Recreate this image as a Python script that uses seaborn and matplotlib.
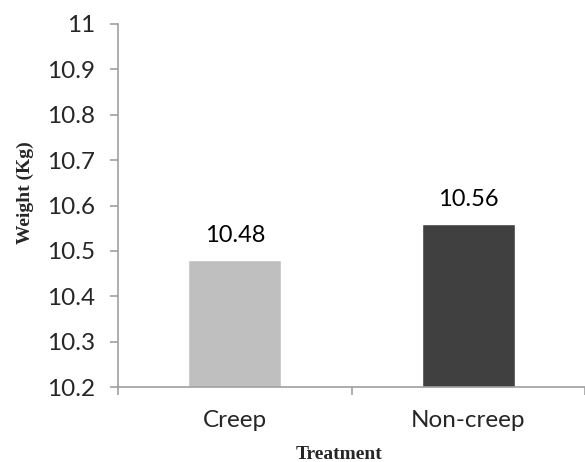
import matplotlib
matplotlib.use('Agg')
import matplotlib.pyplot as plt
import seaborn as sns
import pandas as pd

# Data
treatments = ['Creep', 'Non-creep']
weights = [10.48, 10.56]
bar_colors = ['#bfbfbf', '#404040']
y_ticks = [10.2, 10.3, 10.4, 10.5, 10.6, 10.7, 10.8, 10.9, 11]
y_tick_labels = ['10.2', '10.3', '10.4', '10.5', '10.6', '10.7', '10.8', '10.9', '11']

df = pd.DataFrame({'Treatment': treatments, 'Weight': weights})

sns.set_style('white')
plt.rcParams['font.family'] = ['Lato', 'DejaVu Sans']

fig = plt.figure(figsize=(5.85, 4.62), dpi=100)
ax = fig.add_axes([118 / 585, 75 / 462, 467 / 585, 363 / 462])

sns.barplot(data=df, x='Treatment', y='Weight', hue='Treatment',
            palette=bar_colors, width=0.4, legend=False, ax=ax, saturation=1)

ax.set_ylim(10.2, 11)
ax.set_xlim(-0.5, 1.5)
ax.set_yticks(y_ticks)
ax.set_yticklabels(y_tick_labels)

# value labels above bars
for i, v in enumerate(weights):
    ax.annotate(f'{v:.2f}', xy=(i, v), xytext=(0, 13), textcoords='offset points',
                ha='center', va='baseline', fontsize=17, color='black')

# spines and ticks
axis_gray = '#a0a0a0'
for s in ['top', 'right']:
    ax.spines[s].set_visible(False)
for s in ['left', 'bottom']:
    ax.spines[s].set_color(axis_gray)
    ax.spines[s].set_linewidth(1.2)

ax.tick_params(axis='y', which='major', direction='out', length=5.8, width=1.2,
               color=axis_gray, pad=10.5, labelsize=17.5, left=True)
ax.set_xticks([-0.5, 0.5, 1.5], minor=True)
ax.tick_params(axis='x', which='minor', direction='out', length=5.8, width=1.2,
               color=axis_gray, bottom=True)
ax.tick_params(axis='x', which='major', length=0, pad=16.5, labelsize=17.5)

ax.set_xlabel('Treatment', family='Liberation Serif', fontweight='bold', fontsize=14)
ax.set_ylabel('Weight (Kg)', family='Liberation Serif', fontweight='bold', fontsize=14)
ax.xaxis.set_label_coords(0.473, -0.163)
ax.yaxis.set_label_coords(-0.18, 0.536)

plt.savefig('out.png', dpi=100)
